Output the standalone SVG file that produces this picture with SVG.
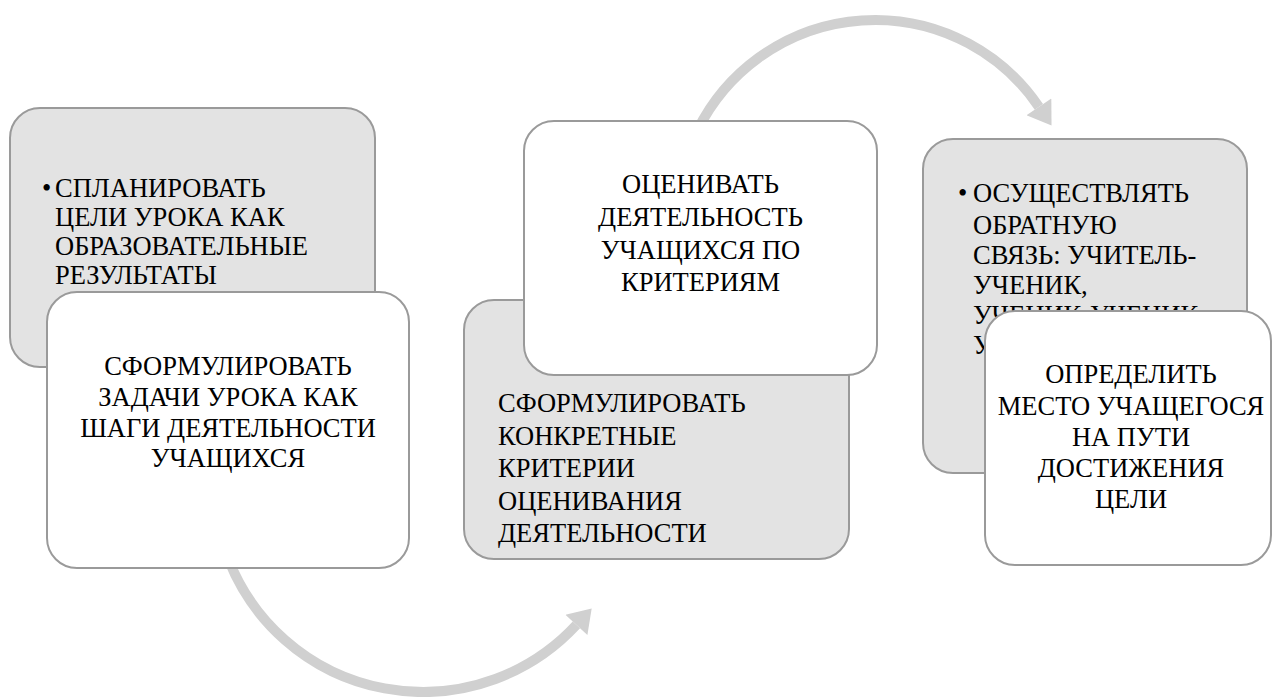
<svg xmlns="http://www.w3.org/2000/svg" width="1272" height="697" viewBox="0 0 1272 697">
<style>
.grey{fill:#e3e3e3;stroke:#9a9a9a;stroke-width:2}
.white{fill:#ffffff;stroke:#9a9a9a;stroke-width:2}
.t{font-family:"Liberation Serif","Times New Roman",serif;font-size:26.5px;fill:#000}
.c{text-anchor:middle}
.arc{fill:none;stroke:#d0d0d0;stroke-width:10}
</style>
<defs>
<marker id="head" markerUnits="userSpaceOnUse" markerWidth="30" markerHeight="30" refX="0" refY="12" orient="auto" viewBox="0 0 20 24">
<path d="M0,0 L18,12 L0,24 z" fill="#d0d0d0"/>
</marker>
</defs>
<rect width="1272" height="697" fill="#ffffff"/>
<g id="connectors">
<path class="arc" d="M697.6,130 A198,198 0 0 1 1038.9,106.9" marker-end="url(#head)"/>
<path class="arc" d="M228.7,560 A209,209 0 0 0 576.4,624.9" marker-end="url(#head)"/>
</g>
<g id="node1a">
<rect class="grey" x="10" y="108" width="365" height="259" rx="30"/>
<text class="t" x="42" y="196.7">•</text>
<text class="t" x="55" y="196.7">СПЛАНИРОВАТЬ</text>
<text class="t" x="55" y="226">ЦЕЛИ УРОКА КАК</text>
<text class="t" x="55" y="255">ОБРАЗОВАТЕЛЬНЫЕ</text>
<text class="t" x="55" y="284.3">РЕЗУЛЬТАТЫ</text>
</g>
<g id="node1b">
<rect class="white" x="47" y="292" width="362" height="276" rx="30"/>
<text class="t c" x="228" y="375">СФОРМУЛИРОВАТЬ</text>
<text class="t c" x="228" y="406">ЗАДАЧИ УРОКА КАК</text>
<text class="t c" x="228" y="436.5">ШАГИ ДЕЯТЕЛЬНОСТИ</text>
<text class="t c" x="228" y="466.7">УЧАЩИХСЯ</text>
</g>
<g id="node2a">
<rect class="grey" x="464" y="300" width="385" height="259" rx="30"/>
<text class="t" x="498" y="411.7">СФОРМУЛИРОВАТЬ</text>
<text class="t" x="498" y="444.5">КОНКРЕТНЫЕ</text>
<text class="t" x="498" y="477">КРИТЕРИИ</text>
<text class="t" x="498" y="509.5">ОЦЕНИВАНИЯ</text>
<text class="t" x="498" y="541.5">ДЕЯТЕЛЬНОСТИ</text>
</g>
<g id="node2b">
<rect class="white" x="524" y="121" width="353" height="254" rx="30"/>
<text class="t c" x="700.5" y="193.3">ОЦЕНИВАТЬ</text>
<text class="t c" x="700.5" y="225.5">ДЕЯТЕЛЬНОСТЬ</text>
<text class="t c" x="700.5" y="258.5">УЧАЩИХСЯ ПО</text>
<text class="t c" x="700.5" y="291">КРИТЕРИЯМ</text>
</g>
<g id="node3a">
<rect class="grey" x="923" y="139" width="324" height="334" rx="30"/>
<text class="t" x="958" y="202">•</text>
<text class="t" x="973" y="202">ОСУЩЕСТВЛЯТЬ</text>
<text class="t" x="973" y="234">ОБРАТНУЮ</text>
<text class="t" x="973" y="264">СВЯЗЬ: УЧИТЕЛЬ-</text>
<text class="t" x="973" y="294">УЧЕНИК,</text>
<text class="t" x="973" y="324">УЧЕНИК-УЧЕНИК</text>
<text class="t" x="973" y="354">У</text>
</g>
<g id="node3b">
<rect class="white" x="985" y="311" width="286" height="254" rx="30"/>
<text class="t c" x="1131" y="383">ОПРЕДЕЛИТЬ</text>
<text class="t c" x="1131" y="414.5">МЕСТО УЧАЩЕГОСЯ</text>
<text class="t c" x="1131" y="445.5">НА ПУТИ</text>
<text class="t c" x="1131" y="476.7">ДОСТИЖЕНИЯ</text>
<text class="t c" x="1131" y="508">ЦЕЛИ</text>
</g>
</svg>
